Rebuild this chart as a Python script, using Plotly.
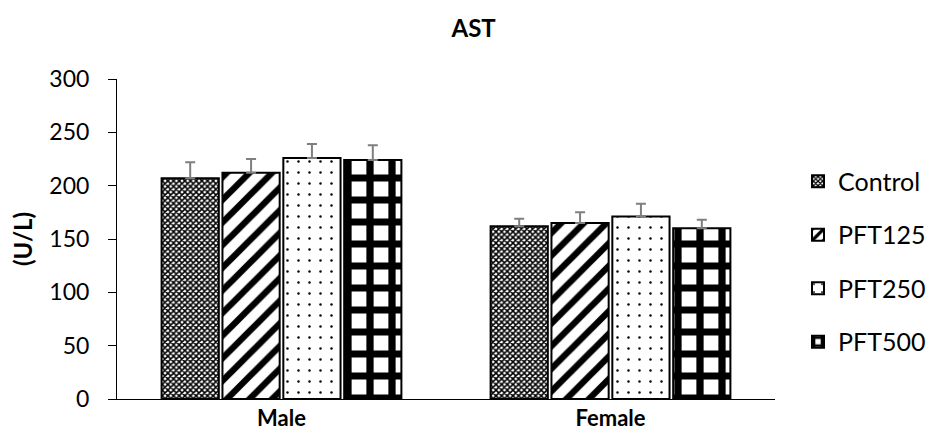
import plotly.graph_objects as go

groups = ["Male", "Female"]
series = ["Control", "PFT125", "PFT250", "PFT500"]
values = {
    "Control": [207, 162],
    "PFT125": [212, 165],
    "PFT250": [226, 171],
    "PFT500": [224, 160],
}
errors = {
    "Control": [15, 7],
    "PFT125": [13, 10],
    "PFT250": [13, 12],
    "PFT500": [14, 8],
}
y_ticks = [0, 50, 100, 150, 200, 250, 300]

patterns = {
    "Control": dict(shape="x", size=4, solidity=0.62),
    "PFT125": dict(shape="/", size=16, solidity=0.4),
    "PFT250": dict(shape=".", size=11, solidity=0.04),
    "PFT500": dict(shape="+", size=22, solidity=0.55),
}

fig = go.Figure()
for s in series:
    pat = dict(patterns[s], fgcolor="#000000", bgcolor="#ffffff", fgopacity=1, fillmode="replace")
    fig.add_trace(go.Bar(
        x=groups, y=values[s], name=s, legendgroup=s,
        marker=dict(color="#ffffff", line=dict(color="#000000", width=2), pattern=pat),
        error_y=dict(type="data", array=errors[s], symmetric=False, arrayminus=[0, 0],
                     color="#7f7f7f", thickness=2, width=5, visible=True),
    ))

FONT = "Lato, Open Sans, sans-serif"
fig.update_layout(
    width=935, height=448,
    margin=dict(l=109, r=163, t=71, b=57),
    paper_bgcolor="#ffffff", plot_bgcolor="#ffffff",
    font=dict(family=FONT, size=22, color="#000000"),
    title=dict(text="<b>AST</b>", x=0.498, xanchor="center", y=0.955, yanchor="middle",
               font=dict(size=24)),
    barmode="group", bargap=0.26, bargroupgap=0.06,
    legend=dict(x=1.035, xanchor="left", y=0.43, yanchor="middle",
                tracegroupgap=18, font=dict(size=25), itemwidth=30),
    showlegend=True,
)
fig.update_xaxes(showline=True, linecolor="#000000", linewidth=1, ticks="",
                 tickfont=dict(size=22, family=FONT),
                 ticktext=["<b>Male</b>", "<b>Female</b>"], tickvals=groups)
fig.update_yaxes(range=[0, 300], tickvals=y_ticks, showline=True, linecolor="#000000",
                 linewidth=1, ticks="outside", ticklen=8, tickcolor="#000000",
                 ticklabelstandoff=14, tickfont=dict(size=23),
                 showgrid=False, zeroline=False,
                 title=dict(text="<b>(U/L)</b>", standoff=12, font=dict(size=24)))

fig.write_html("out.html")
